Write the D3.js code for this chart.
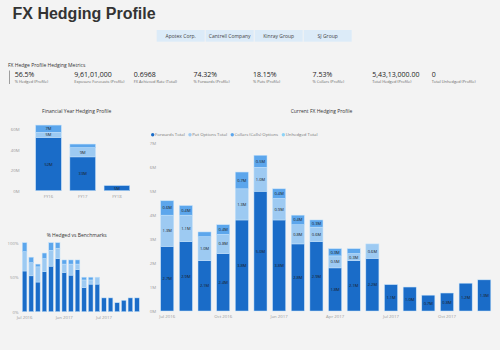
<!DOCTYPE html>
<html lang="en">
<head>
<meta charset="utf-8">
<title>FX Hedging Profile</title>
<script src="https://d3js.org/d3.v7.min.js"></script>
<style>
  body { margin: 0; background: #f3f3f3; }
  svg text { font-family: "Open Sans", "Noto Sans", sans-serif; }
</style>
</head>
<body>
<div id="chart"></div>
<script>
// ---- data ----
var companies = ["Apotex Corp.", "Cantrell Company", "Kinray Group", "SJ Group"];

var kpiValues = ["56.5%", "9,61,01,000", "0.6968", "74.32%", "18.15%", "7.53%", "5,43,13,000.00", "0"];
var kpiLabels = ["% Hedged (Profile)", "Exposure Forecasts (Profile)", "FX Achieved Rate (Total)",
                 "% Forwards (Profile)", "% Puts (Profile)", "% Collars (Profile)",
                 "Total Hedged (Profile)", "Total Unhedged (Profile)"];

var seriesNames = ["Forwards Total", "Put Options Total", "Collars (Calls) Options", "Unhedged Total"];

// financial year chart (M)
var fyears = ["FY16", "FY17", "FY18"];
var fyForwards = [52, 33, 5];
var fyPuts = [5, 9, 0];
var fyCollars = [7, 3.5, 0];
var fyTicks = [0, 20, 40, 60];

// monthly chart (M)
var months = ["Jul 2016", "Aug 2016", "Sep 2016", "Oct 2016", "Nov 2016", "Dec 2016",
              "Jan 2017", "Feb 2017", "Mar 2017", "Apr 2017", "May 2017", "Jun 2017",
              "Jul 2017", "Aug 2017", "Sep 2017", "Oct 2017", "Nov 2017", "Dec 2017"];
var mForwards = [2.7, 2.9, 2.1, 2.4, 3.8, 5.0, 3.8, 2.8, 2.9, 1.8, 2.1, 2.2, 1.1, 1.0, 0.66, 0.75, 1.16, 1.3];
var mPuts     = [1.3, 1.1, 1.0, 0.8, 1.3, 1.0, 0.9, 0.8, 0.6, 0.5, 0.3, 0.6, 0, 0, 0, 0, 0, 0];
var mCollars  = [0.6, 0.4, 0.2, 0.4, 0.7, 0.5, 0.4, 0.4, 0.3, 0.3, 0.2, 0, 0, 0, 0, 0, 0, 0];
var mUnhedged = [0, 0, 0, 0, 0, 0, 0, 0, 0, 0, 0, 0, 0, 0, 0, 0, 0, 0];
var mTicks = [0, 1, 2, 3, 4, 5, 6, 7];
var monthTicks = ["Jul 2016", "Oct 2016", "Jan 2017", "Apr 2017", "Jul 2017", "Oct 2017"];

// % hedged chart
var pForwards = [59, 52, 43, 58, 66, 77, 57, 53, 61, 35, 40, 40, 20, 20, 13, 16.5, 20, 20];
var pPuts     = [28, 19, 22, 19, 23, 15, 12, 16, 8, 11, 6, 10, 0, 0, 0, 0, 0, 0];
var pCollars  = [13, 8, 4, 8, 11, 8, 6, 6, 6, 4, 4, 0, 0, 0, 0, 0, 0, 0];
var pTicks = [0, 50, 100];
var pMonthTicks = ["Jul 2016", "Jan 2017", "Jul 2017"];

var colors = ["#1a6cc8", "#9dcaf2", "#5ca6ec", "#8dd3f7"];

// ---- svg ----
var svg = d3.select("#chart").append("svg")
    .attr("width", 500)
    .attr("height", 350)
    .style("background", "#f3f3f3");

// page title
svg.append("text")
    .attr("x", 12.5).attr("y", 18.5)
    .style("font-family", "'Liberation Sans', Arial, sans-serif")
    .style("font-weight", "bold")
    .style("font-size", "16px")
    .attr("fill", "#333")
    .text("FX Hedging Profile");

// company slicer
var slicer = d3.scaleBand().domain(companies).range([156.7, 351.7]).paddingInner(0.02);
svg.selectAll(".slice").data(companies).enter().append("rect")
    .attr("x", function(d) { return slicer(d); })
    .attr("y", 30)
    .attr("width", slicer.bandwidth())
    .attr("height", 11.7)
    .attr("fill", "#dcebf8");
svg.selectAll(".sliceText").data(companies).enter().append("text")
    .attr("x", function(d) { return slicer(d) + slicer.bandwidth() / 2; })
    .attr("y", 37.8)
    .attr("text-anchor", "middle")
    .style("font-size", "5px")
    .attr("fill", "#444")
    .text(function(d) { return d; });

// KPI strip
svg.append("text")
    .attr("x", 8).attr("y", 66.5)
    .style("font-size", "5px")
    .attr("fill", "#333")
    .text("FX Hedge Profile Hedging Metrics");
svg.append("line")
    .attr("x1", 9.5).attr("x2", 9.5).attr("y1", 70.5).attr("y2", 84)
    .attr("stroke", "#888").attr("stroke-width", 0.8);

var kpiX = d3.scalePoint().domain(d3.range(kpiValues.length)).range([14.7, 431.7]);
svg.selectAll(".kpiV").data(kpiValues).enter().append("text")
    .attr("x", function(d, i) { return kpiX(i); })
    .attr("y", 77.2)
    .style("font-size", "7px")
    .attr("fill", "#222")
    .text(function(d) { return d; });
svg.selectAll(".kpiL").data(kpiLabels).enter().append("text")
    .attr("x", function(d, i) { return kpiX(i); })
    .attr("y", 82.8)
    .style("font-size", "3.9px")
    .attr("fill", "#666")
    .text(function(d) { return d; });

// helper: stacked bars
function stackedBars(g, cats, series, x, y, fmt, minLabel) {
  var rows = cats.map(function(c, i) {
    var r = {cat: c};
    series.forEach(function(s, k) { r["s" + k] = s[i]; });
    return r;
  });
  var keys = series.map(function(s, k) { return "s" + k; });
  var stacked = d3.stack().keys(keys)(rows);

  var layer = g.selectAll(".layer").data(stacked).enter().append("g")
      .attr("fill", function(d, k) { return colors[k]; });
  layer.selectAll("rect").data(function(d) { return d; }).enter()
    .filter(function(d) { return d[1] - d[0] > 0; })
    .append("rect")
      .attr("x", function(d) { return x(d.data.cat); })
      .attr("y", function(d) { return y(d[1]); })
      .attr("width", x.bandwidth())
      .attr("height", function(d) { return y(d[0]) - y(d[1]); })
      .attr("stroke", "#c4e2fb")
      .attr("stroke-width", 0.5);

  if (fmt) {
    layer.selectAll("text").data(function(d) { return d; }).enter()
      .filter(function(d) { return d[1] - d[0] >= minLabel; })
      .append("text")
        .attr("x", function(d) { return x(d.data.cat) + x.bandwidth() / 2; })
        .attr("y", function(d) { return (y(d[0]) + y(d[1])) / 2 + 1.5; })
        .attr("text-anchor", "middle")
        .style("font-size", "4px")
        .attr("fill", "#1a1a1a")
        .text(function(d) { return fmt(d[1] - d[0]); });
  }
}

function styleAxis(a, size) {
  a.select(".domain").remove();
  a.selectAll(".tick line").remove();
  a.selectAll("text")
    .style("font-size", size)
    .style("font-family", "'Open Sans', 'Noto Sans', sans-serif")
    .attr("fill", "#999");
}

function chartTitle(x, y, t) {
  svg.append("text")
    .attr("x", x).attr("y", y)
    .attr("text-anchor", "middle")
    .style("font-size", "5px")
    .attr("fill", "#333")
    .text(t);
}

// ---- Financial Year Hedging Profile ----
chartTitle(76.7, 112.5, "Financial Year Hedging Profile");
var fx = d3.scaleBand().domain(fyears).range([31.4, 134]).paddingInner(0.25).paddingOuter(0.125);
var fy = d3.scaleLinear().domain([0, 60]).range([190.7, 129.2]);
var g1 = svg.append("g");
stackedBars(g1, fyears, [fyForwards, fyPuts, fyCollars], fx, fy,
            function(v) { return d3.format(".0f")(v) + "M"; }, 4);
svg.append("g").attr("transform", "translate(19.5,0)")
  .call(d3.axisLeft(fy).tickValues(fyTicks).tickSize(0).tickPadding(0)
        .tickFormat(function(d) { return d + "M"; }))
  .call(styleAxis, "4.3px");
svg.append("g").attr("transform", "translate(0,191.5)")
  .call(d3.axisBottom(fx).tickSize(0).tickPadding(3))
  .call(styleAxis, "4.3px");

// ---- Current FX Hedging Profile ----
chartTitle(321.5, 112.5, "Current FX Hedging Profile");

// legend
var legend = svg.append("g").attr("transform", "translate(151,134.7)");
var lx = 0;
seriesNames.forEach(function(n, k) {
  legend.append("circle").attr("cx", lx + 1.7).attr("cy", 0).attr("r", 1.7).attr("fill", colors[k]);
  var t = legend.append("text").attr("x", lx + 4).attr("y", 1.5)
      .style("font-size", "4.3px").attr("fill", "#777").text(n);
  lx += 4 + t.node().getComputedTextLength() + 3.5;
});

var mx = d3.scaleBand().domain(months).range([157.9, 493.6]).paddingInner(0.3).paddingOuter(0.15);
var my = d3.scaleLinear().domain([0, 7]).range([311, 143.3]);
var g2 = svg.append("g");
stackedBars(g2, months, [mForwards, mPuts, mCollars, mUnhedged], mx, my,
            function(v) { return d3.format(".1f")(v) + "M"; }, 0.25);
svg.append("g").attr("transform", "translate(156,0)")
  .call(d3.axisLeft(my).tickValues(mTicks).tickSize(0).tickPadding(0)
        .tickFormat(function(d) { return d + "M"; }))
  .call(styleAxis, "4.3px");
svg.append("g").attr("transform", "translate(0,312)")
  .call(d3.axisBottom(mx).tickValues(monthTicks).tickSize(0).tickPadding(3))
  .call(styleAxis, "4.3px");

// ---- % Hedged vs Benchmarks ----
chartTitle(76.7, 237, "% Hedged vs Benchmarks");
var px = d3.scaleBand().domain(months).range([21.3, 140.3]).paddingInner(0.3).paddingOuter(0.15);
var py = d3.scaleLinear().domain([0, 100]).range([311.7, 242.7]);
var g3 = svg.append("g");
stackedBars(g3, months, [pForwards, pPuts, pCollars], px, py, null, 0);
svg.append("g").attr("transform", "translate(18.5,0)")
  .call(d3.axisLeft(py).tickValues(pTicks).tickSize(0).tickPadding(0)
        .tickFormat(function(d) { return d + "%"; }))
  .call(styleAxis, "4.3px");
svg.append("g").attr("transform", "translate(0,312.5)")
  .call(d3.axisBottom(px).tickValues(pMonthTicks).tickSize(0).tickPadding(3))
  .call(styleAxis, "4.3px");
</script>
</body>
</html>
